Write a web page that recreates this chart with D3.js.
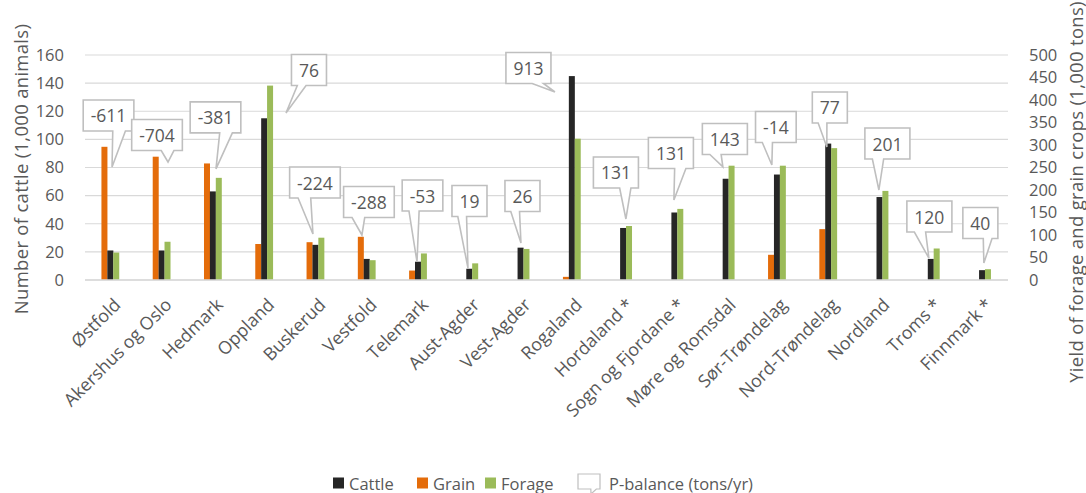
<!DOCTYPE html>
<html>
<head>
<meta charset="utf-8">
<script src="https://cdn.jsdelivr.net/npm/d3@7"></script>
<style>
  html, body { margin: 0; padding: 0; background: #fff; }
  svg { display: block; font-family: "Open Sans", "DejaVu Sans", sans-serif; }
</style>
</head>
<body>
<svg id="chart" width="1086" height="493"></svg>
<script>
// Counties of Norway
const categories = ["Østfold", "Akershus og Oslo", "Hedmark", "Oppland", "Buskerud", "Vestfold",
  "Telemark", "Aust-Agder", "Vest-Agder", "Rogaland", "Hordaland *", "Sogn og Fjordane *",
  "Møre og Romsdal", "Sør-Trøndelag", "Nord-Trøndelag", "Nordland", "Troms *", "Finnmark *"];

// Number of cattle (1,000 animals) – left axis
const cattle = [21, 21, 63, 115, 25, 15, 13, 8, 23, 145, 37, 48, 72, 75, 97, 59, 15, 7];
// Grain yield (1,000 tons) – right axis
const grain = [296, 274, 259, 80, 84, 96, 21, 0, 0, 7, 0, 0, 0, 56, 113, 0, 0, 0];
// Forage yield (1,000 tons) – right axis
const forage = [61, 85, 227, 432, 94, 44, 59, 37, 69, 314, 120, 158, 254, 254, 293, 198, 70, 24];
// Phosphorus balance (tons/yr)
const pBalance = [-611, -704, -381, 76, -224, -288, -53, 19, 26, 913, 131, 131, 143, -14, 77, 201, 120, 40];

const leftTicks = [0, 20, 40, 60, 80, 100, 120, 140, 160];
const rightTicks = [0, 50, 100, 150, 200, 250, 300, 350, 400, 450, 500];

// Callout placement: tip offset from the category centre (px) and height on the cattle axis,
// box centre offset from the tip (px)
const calloutLayout = [
  { tdx: 1.4, tv: 80.4, bdx: -3.5, bdy: -51.5 },
  { tdx: 6.1, tv: 83.9, bdx: -11, bdy: -27 },
  { tdx: 2.8, tv: 79, bdx: -0.5, bdy: -51.5 },
  { tdx: 21.5, tv: 118.8, bdx: 23, bdy: -43 },
  { tdx: -2.8, tv: 32.7, bdx: 2, bdy: -51.5 },
  { tdx: -5.1, tv: 32, bdx: 7, bdy: -33 },
  { tdx: -1.3, tv: 12.8, bdx: 5.5, bdy: -66.5 },
  { tdx: -1.6, tv: 8.5, bdx: 1.5, bdy: -67 },
  { tdx: 0.1, tv: 26.3, bdx: 1.5, bdy: -47 },
  { tdx: -17.2, tv: 133.7, bdx: -26.5, bdy: -24 },
  { tdx: 2.5, tv: 43.4, bdx: -10, bdy: -46.5 },
  { tdx: -0.8, tv: 56.9, bdx: -3, bdy: -47 },
  { tdx: -3.1, tv: 80.4, bdx: 2, bdy: -28 },
  { tdx: -5.4, tv: 81.8, bdx: 4, bdy: -38 },
  { tdx: -1.7, tv: 94.6, bdx: 3, bdy: -39.5 },
  { tdx: -0.9, tv: 64, bdx: 8.5, bdy: -46.5 },
  { tdx: -2.2, tv: 15.6, bdx: 0.5, bdy: -41.5 },
  { tdx: 1.5, tv: 12.1, bdx: -3.5, bdy: -40 }
];

const colors = { cattle: "#262626", grain: "#e46c0a", forage: "#9bbb59" };
const textColor = "#595959";
const gridColor = "#d9d9d9";
const calloutStroke = "#bfbfbf";

const svg = d3.select("#chart");
const plot = { left: 85, right: 1008, top: 55, bottom: 280 };

const x = d3.scaleBand().domain(categories).range([plot.left, plot.right]).padding(0);
const yL = d3.scaleLinear().domain([0, 160]).range([plot.bottom, plot.top]);
const yR = d3.scaleLinear().domain([0, 500]).range([plot.bottom, plot.top]);
const cx = c => x(c) + x.bandwidth() / 2;

// Gridlines
svg.append("g")
  .selectAll("line")
  .data(leftTicks)
  .join("line")
  .attr("x1", plot.left).attr("x2", plot.right)
  .attr("y1", d => yL(d)).attr("y2", d => yL(d))
  .attr("stroke", gridColor).attr("stroke-width", 1.2);

// Left axis
const leftAxis = svg.append("g")
  .attr("transform", `translate(${plot.left - 21},0)`)
  .call(d3.axisLeft(yL).tickValues(leftTicks).tickSize(0).tickPadding(0));
leftAxis.select(".domain").remove();
leftAxis.selectAll("text").attr("fill", textColor).attr("font-size", 16.5)
  .attr("font-family", "Open Sans, sans-serif");

// Right axis
const rightAxis = svg.append("g")
  .attr("transform", `translate(${plot.right + 21},0)`)
  .call(d3.axisRight(yR).tickValues(rightTicks).tickSize(0).tickPadding(0));
rightAxis.select(".domain").remove();
rightAxis.selectAll("text").attr("fill", textColor).attr("font-size", 16.5)
  .attr("font-family", "Open Sans, sans-serif");

// Axis titles
svg.append("text")
  .attr("transform", `translate(20,169) rotate(-90)`)
  .attr("text-anchor", "middle").attr("dominant-baseline", "central")
  .attr("fill", textColor).attr("font-size", 18.5).attr("letter-spacing", 0.3)
  .text("Number of cattle (1,000 animals)");

svg.append("text")
  .attr("transform", `translate(1075,192) rotate(-90)`)
  .attr("text-anchor", "middle").attr("dominant-baseline", "central")
  .attr("fill", textColor).attr("font-size", 18.5).attr("letter-spacing", 0.3)
  .text("Yield of forage and grain crops (1,000 tons)");

// Bars
const bw = 6;
const series = [
  { key: "grain", values: grain, scale: yR, off: -6.2 },
  { key: "cattle", values: cattle, scale: yL, off: -0.3 },
  { key: "forage", values: forage, scale: yR, off: 5.6 }
];
series.forEach(s => {
  svg.append("g")
    .selectAll("rect")
    .data(categories.map((c, i) => ({ c, v: s.values[i] })).filter(d => d.v > 0))
    .join("rect")
    .attr("x", d => cx(d.c) + s.off - bw / 2)
    .attr("width", bw)
    .attr("y", d => s.scale(d.v))
    .attr("height", d => plot.bottom - s.scale(d.v))
    .attr("fill", colors[s.key]);
});

// Category axis line
svg.append("line")
  .attr("x1", plot.left).attr("x2", plot.right)
  .attr("y1", plot.bottom).attr("y2", plot.bottom)
  .attr("stroke", gridColor).attr("stroke-width", 1.5);

// Category labels
svg.append("g")
  .selectAll("text")
  .data(categories)
  .join("text")
  .attr("transform", d => `translate(${cx(d) + 6},${plot.bottom + 21}) rotate(-45)`)
  .attr("text-anchor", "end")
  .attr("dominant-baseline", "central")
  .attr("fill", textColor).attr("font-size", 17.8)
  .text(d => d);

// Rectangular callout with a wedge pointing at (tx, ty)
function calloutPath(x0, y0, w, h, tx, ty) {
  const dxPos = tx - (x0 + w / 2);
  const dyPos = ty - (y0 + h / 2);
  const dq = dxPos * h / w;
  const dz = Math.abs(dyPos) - Math.abs(dq);
  const x1 = w * (dxPos > 0 ? 7 : 2) / 12, x2 = w * (dxPos > 0 ? 10 : 5) / 12;
  const y1 = h * (dyPos > 0 ? 7 : 2) / 12, y2 = h * (dyPos > 0 ? 10 : 5) / 12;
  const p = d3.path();
  if (dz > 0) {
    if (dyPos > 0) {
      p.moveTo(x0, y0); p.lineTo(x0 + w, y0); p.lineTo(x0 + w, y0 + h);
      p.lineTo(x0 + x2, y0 + h); p.lineTo(tx, ty); p.lineTo(x0 + x1, y0 + h);
      p.lineTo(x0, y0 + h); p.closePath();
    } else {
      p.moveTo(x0, y0); p.lineTo(x0 + x1, y0); p.lineTo(tx, ty); p.lineTo(x0 + x2, y0);
      p.lineTo(x0 + w, y0); p.lineTo(x0 + w, y0 + h); p.lineTo(x0, y0 + h); p.closePath();
    }
  } else if (dxPos < 0) {
    p.moveTo(x0, y0); p.lineTo(x0 + w, y0); p.lineTo(x0 + w, y0 + h); p.lineTo(x0, y0 + h);
    p.lineTo(x0, y0 + y2); p.lineTo(tx, ty); p.lineTo(x0, y0 + y1); p.closePath();
  } else {
    p.moveTo(x0, y0); p.lineTo(x0 + w, y0); p.lineTo(x0 + w, y0 + y1); p.lineTo(tx, ty);
    p.lineTo(x0 + w, y0 + y2); p.lineTo(x0 + w, y0 + h); p.lineTo(x0, y0 + h); p.closePath();
  }
  return p.toString();
}

// P-balance callouts
const calloutG = svg.append("g");
categories.forEach((c, i) => {
  const L = calloutLayout[i];
  const tx = cx(c) + L.tdx;
  const ty = yL(L.tv);
  const bx = tx + L.bdx, by = ty + L.bdy;
  const g = calloutG.append("g");
  const path = g.append("path");
  const t = g.append("text")
    .attr("x", bx).attr("y", by)
    .attr("text-anchor", "middle").attr("dominant-baseline", "central")
    .attr("fill", textColor).attr("font-size", 17.5)
    .text(pBalance[i]);
  const w = t.node().getComputedTextLength() + 15;
  const h = 31;
  path.attr("d", calloutPath(bx - w / 2, by - h / 2, w, h, tx, ty))
    .attr("fill", "#fff").attr("stroke", calloutStroke).attr("stroke-width", 1.6)
    .attr("stroke-linejoin", "miter");
});

// Legend
const legend = svg.append("g").attr("font-size", 16.5).attr("fill", textColor);
const legendItems = [
  { label: "Cattle", color: colors.cattle, x: 333 },
  { label: "Grain", color: colors.grain, x: 417 },
  { label: "Forage", color: colors.forage, x: 485 }
];
const ly = 483;
legendItems.forEach(d => {
  legend.append("rect").attr("x", d.x).attr("y", ly - 5.5).attr("width", 11).attr("height", 11)
    .attr("fill", d.color);
  legend.append("text").attr("x", d.x + 16).attr("y", ly).attr("dominant-baseline", "central")
    .attr("fill", textColor).text(d.label);
});
legend.append("path")
  .attr("d", calloutPath(578, ly - 9, 22, 15, 591, ly + 11))
  .attr("fill", "#fff").attr("stroke", calloutStroke).attr("stroke-width", 1.2);
legend.append("text").attr("x", 609).attr("y", ly).attr("dominant-baseline", "central")
  .attr("fill", textColor).text("P-balance (tons/yr)");
</script>
</body>
</html>
